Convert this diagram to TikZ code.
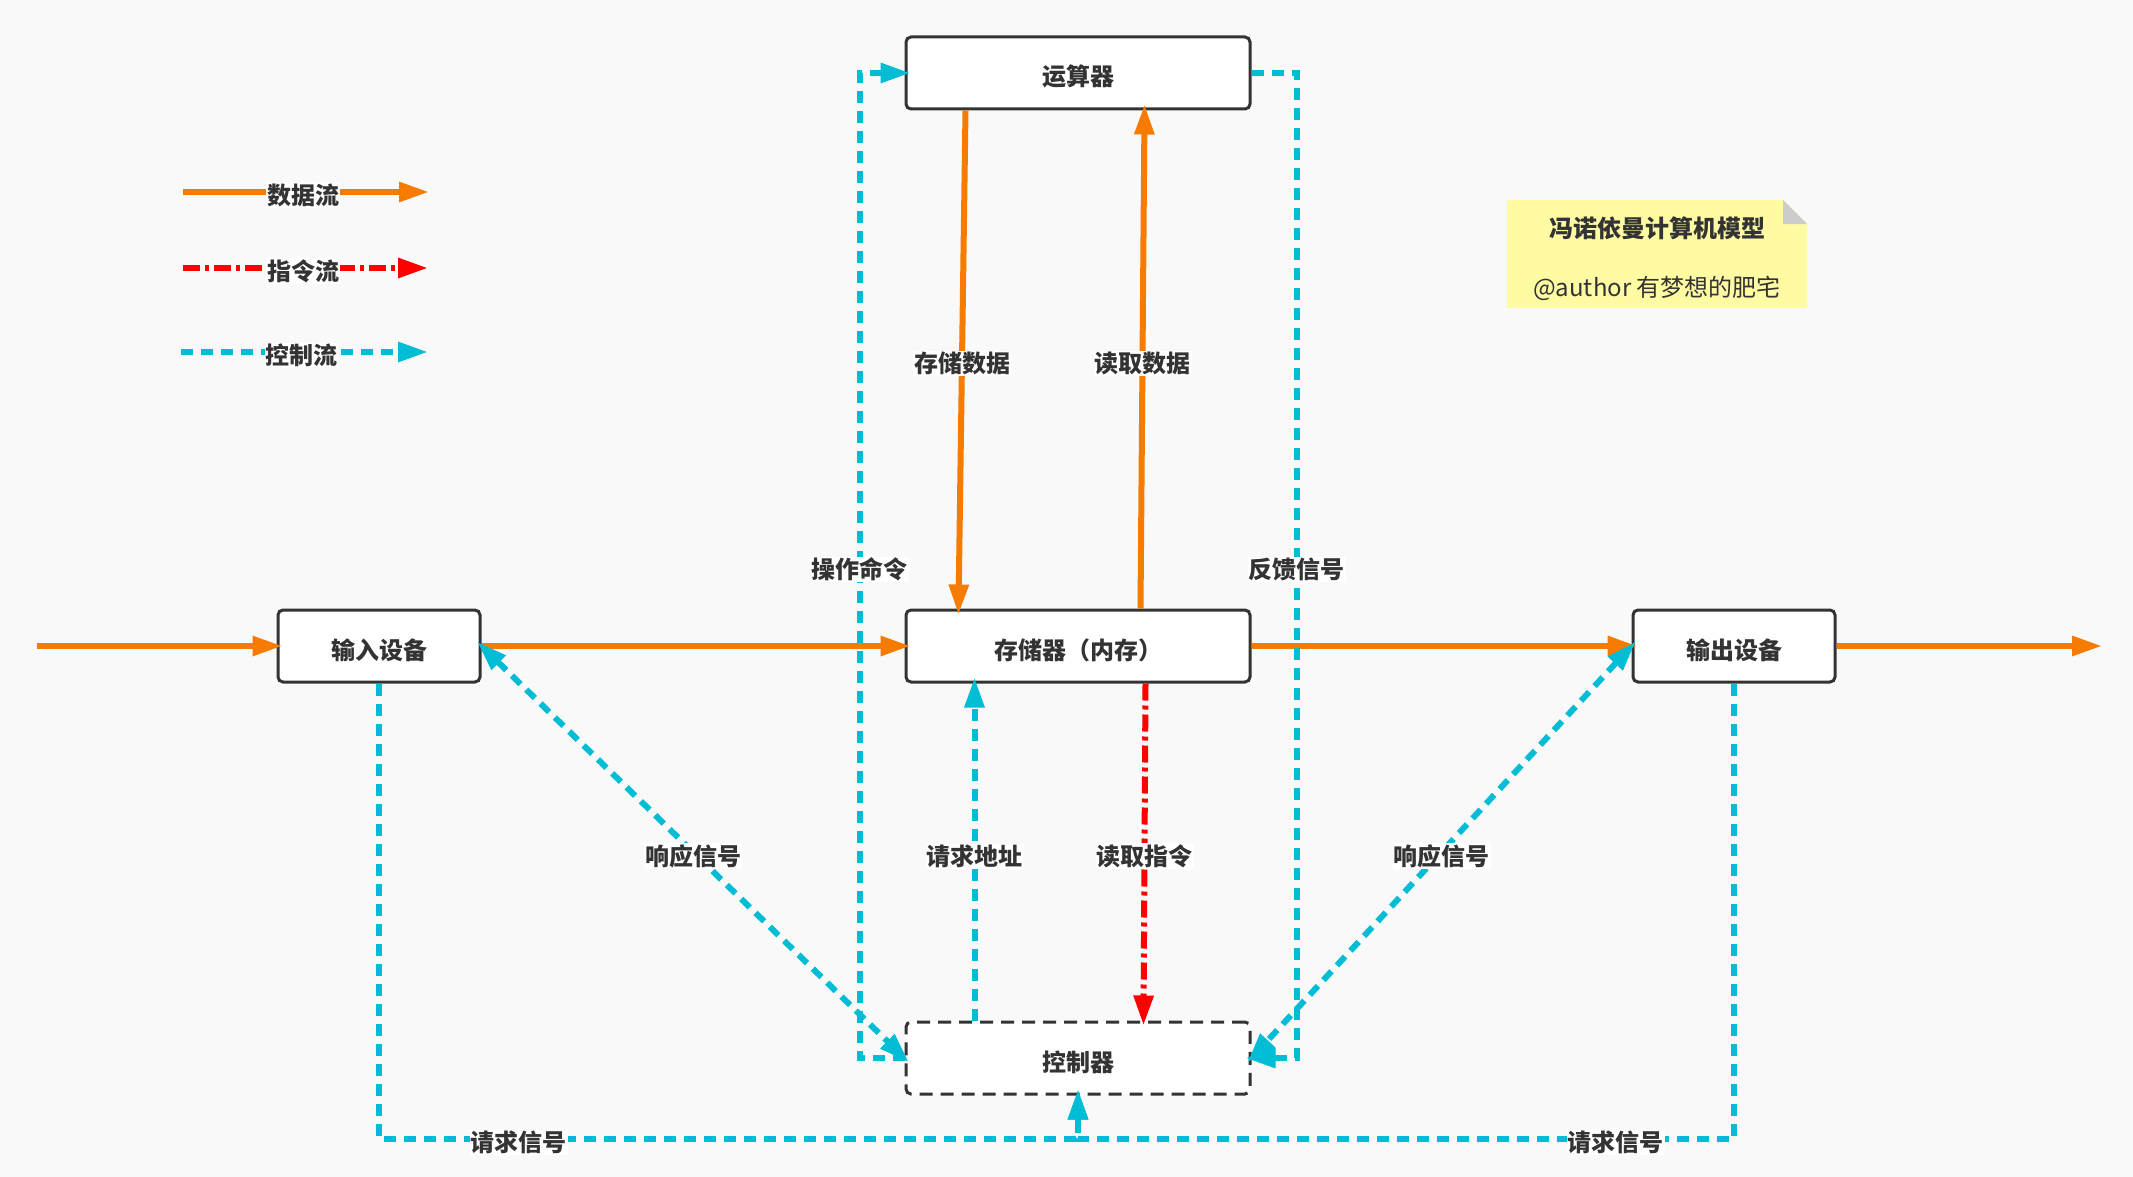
\documentclass[tikz,border=0pt]{standalone}
\usepackage{fontspec}
\usetikzlibrary{arrows.meta}
\newfontfamily\cjkfont{Noto Sans CJK SC}

\definecolor{bgcol}{HTML}{F9F9F9}
\definecolor{dataor}{RGB}{245,124,0}
\definecolor{ctrlcy}{RGB}{0,188,212}
\definecolor{instrred}{RGB}{255,0,0}
\definecolor{boxline}{HTML}{333333}
\definecolor{notey}{HTML}{FFFBA3}
\definecolor{foldgray}{HTML}{CCCCCC}

\tikzset{
  unit/.style={draw=boxline, line width=3pt, fill=white, rounded corners=5pt,
    minimum height=72pt, text=boxline, text height=26pt, text depth=0pt,
    font=\cjkfont\bfseries\fontsize{24}{28}\selectfont},
  lbl/.style={fill=white, inner sep=1pt, text=boxline, yshift=-4pt,
    font=\cjkfont\bfseries\fontsize{24}{28}\selectfont},
  notetxt/.style={inner sep=1pt, text=boxline, font=\cjkfont\fontsize{24}{28}\selectfont},
  dataflow/.style={draw=dataor, line width=6pt, ->, shorten >=-6pt},
  instrflow/.style={draw=instrred, line width=6pt, dash pattern=on 17pt off 5pt on 4pt off 5pt, ->, shorten >=-5pt},
  ctrlflow/.style={draw=ctrlcy, line width=6pt, dash pattern=on 12pt off 8pt, ->, shorten >=-6pt},
}

\begin{document}
\begin{tikzpicture}[x=1pt,y=-1pt,>={Triangle[length=30pt,width=19pt]}]
  \useasboundingbox[fill=bgcol] (0,0) rectangle (2133,1177);

  % les unités
  \node[unit, minimum width=344pt] (alu) at (1078,73) {运算器};
  \node[unit, minimum width=344pt] (mem) at (1078,646) {存储器（内存）};
  \node[unit, minimum width=344pt, dash pattern=on 13pt off 8pt] (ctrl) at (1078,1058) {控制器};
  \node[unit, minimum width=202pt] (indev) at (379,646) {输入设备};
  \node[unit, minimum width=202pt] (outdev) at (1734,646) {输出设备};

  \coordinate (src) at (37,646);
  \coordinate (sink) at (2096,646);

  % flux de données
  \draw[dataflow] (src) -- (indev.west);
  \draw[dataflow] (indev.east) -- (mem.west);
  \draw[dataflow] (mem.east) -- (outdev.west);
  \draw[dataflow] (outdev.east) -- (sink);
  \draw[dataflow] ([xshift=61pt]alu.south west) -- node[lbl] {存储数据} ([xshift=54pt]mem.north west);
  \draw[dataflow] ([xshift=236pt]mem.north west) -- node[lbl] {读取数据} ([xshift=240pt]alu.south west);

  % flux d'instructions
  \draw[instrflow] ([xshift=241pt]mem.south west) -- node[lbl] {读取指令} ([xshift=239pt]ctrl.north west);

  % flux de contrôle
  \draw[ctrlflow] ([xshift=70pt]ctrl.north west) -- node[lbl] {请求地址} ([xshift=70pt]mem.south west);
  \draw[ctrlflow] (ctrl.west) -| node[lbl, pos=0.75] {操作命令} ([xshift=-45pt]alu.west) -- (alu.west);
  \draw[ctrlflow] (alu.east) -| node[lbl, pos=0.75] {反馈信号} ([xshift=45pt]ctrl.east) -- (ctrl.east);
  \draw[ctrlflow, <->, shorten <=-6pt] (indev.east) -- node[lbl] {响应信号} (ctrl.west);
  \draw[ctrlflow, <->, shorten <=-6pt] (outdev.west) -- node[lbl] {响应信号} (ctrl.east);
  \draw[ctrlflow] (indev.south) |- node[lbl, pos=0.6] {请求信号} ([yshift=-43pt]ctrl.south) -- (ctrl.south);
  \draw[ctrlflow] (outdev.south) |- node[lbl, pos=0.59] {请求信号} ([yshift=-43pt]ctrl.south) -- (ctrl.south);

  % légende
  \coordinate (leg1a) at (183,192); \coordinate (leg1b) at (423,192);
  \coordinate (leg2a) at (183,268); \coordinate (leg2b) at (423,268);
  \coordinate (leg3a) at (181,352); \coordinate (leg3b) at (422,352);
  \draw[dataflow] (leg1a) -- node[lbl, yshift=1pt] {数据流} (leg1b);
  \draw[instrflow] (leg2a) -- node[lbl, yshift=1pt] {指令流} (leg2b);
  \draw[ctrlflow] (leg3a) -- node[lbl, yshift=1pt] {控制流} (leg3b);

  % la note
  \fill[notey] (1507,200) -- (1783,200) -- (1807,224) -- (1807,308) -- (1507,308) -- cycle;
  \fill[foldgray] (1783,200) -- (1807,224) -- (1783,224) -- cycle;
  \node[notetxt, font=\cjkfont\bfseries\fontsize{24}{28}\selectfont] (notetitle) at (1657,228) {冯诺依曼计算机模型};
  \node[notetxt] (noteauthor) at (1657,288) {@author 有梦想的肥宅};
\end{tikzpicture}
\end{document}
